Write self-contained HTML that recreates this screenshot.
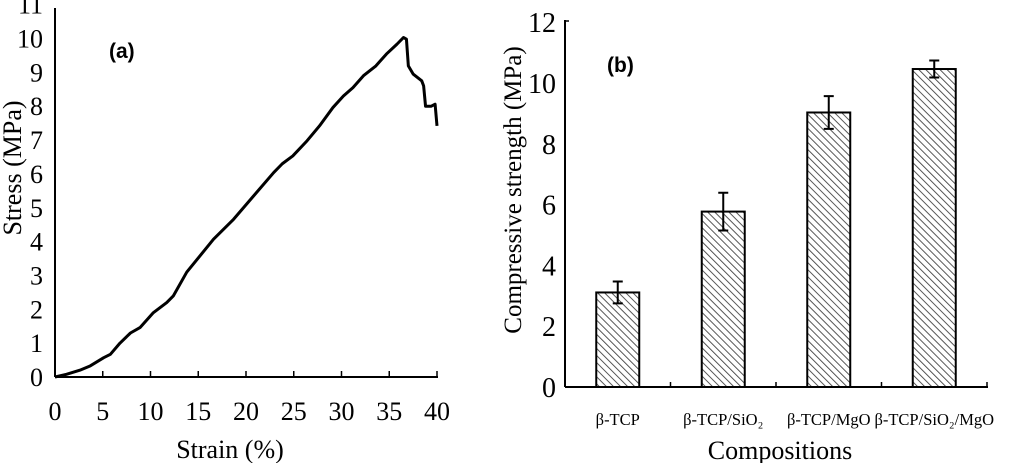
<!DOCTYPE html>
<html><head><meta charset="utf-8"><style>
html,body{margin:0;padding:0;background:#fff;}
svg{display:block;font-family:"Liberation Serif",serif;}
</style></head><body>
<svg width="1024" height="463" viewBox="0 0 1024 463">
<defs>
<pattern id="hatch" patternUnits="userSpaceOnUse" width="5" height="5" patternTransform="rotate(-45)">
<rect width="5" height="5" fill="#fff"/><line x1="0" y1="0" x2="0" y2="5" stroke="#444" stroke-width="1.8"/>
</pattern>
</defs>
<g id="chartA"></g>
<g id="chartB"></g>
</svg>
<script>
const strainVals=[0,1.2,2.6,3.7,5.1,5.8,6.8,7.9,8.9,10.3,11.7,12.4,13.8,16.6,18.7,20.8,22.9,23.8,24.9,26.4,27.7,29.1,30.2,31.2,32.3,33.6,34.7,35.8,36.5,36.8,37.0,37.5,38.4,38.6,38.8,39.4,39.8,40];
const stressVals=[0,0.08,0.2,0.33,0.57,0.67,1.0,1.3,1.46,1.9,2.2,2.4,3.1,4.07,4.66,5.35,6.04,6.3,6.53,6.98,7.42,7.96,8.3,8.55,8.9,9.19,9.54,9.83,10.03,9.98,9.19,8.95,8.75,8.6,8.0,8.0,8.06,7.42];
const xTicksA=[0,5,10,15,20,25,30,35,40];
const yTicksA=[0,1,2,3,4,5,6,7,8,9,10,11];
const categories=["β-TCP","β-TCP/SiO₂","β-TCP/MgO","β-TCP/SiO₂/MgO"];
const strengthVals=[3.11,5.77,9.03,10.46];
const errVals=[0.36,0.62,0.54,0.28];
const yTicksB=[0,2,4,6,8,10,12];

const NS="http://www.w3.org/2000/svg";
function mk(tag,attrs,parent,text){const e=document.createElementNS(NS,tag);for(const k in attrs)e.setAttribute(k,attrs[k]);if(text!==undefined)e.textContent=text;parent.appendChild(e);return e;}

// Chart A
const A=document.getElementById('chartA');
const ax=v=>55+v*(437-55)/40;
const ay=v=>377-v*33.85;
let e;
e=mk('line',{x1:55,y1:8,x2:55,y2:377,stroke:'#000','stroke-width':2},A);

e=mk('line',{x1:55,y1:377,x2:438,y2:377,stroke:'#000','stroke-width':2},A);

xTicksA.forEach(t=>{
 mk('line',{x1:ax(t),y1:371,x2:ax(t),y2:377,stroke:'#000','stroke-width':1.5},A);
 e=mk('text',{x:ax(t),y:420,'text-anchor':'middle','font-size':26},A,String(t));
 
});
yTicksA.forEach(t=>{
 e=mk('text',{x:43,y:ay(t)+9,'text-anchor':'end','font-size':26},A,String(t));
 
});
e=mk('polyline',{points:strainVals.map((s,i)=>ax(s)+','+ay(stressVals[i])).join(' '),fill:'none',stroke:'#000','stroke-width':3,'stroke-linejoin':'round'},A);

e=mk('text',{x:230,y:458,'text-anchor':'middle','font-size':26},A,'Strain (%)');

e=mk('text',{x:0,y:0,'text-anchor':'middle','font-size':26,transform:'translate(21,168) rotate(-90)'},A,'Stress (MPa)');

e=mk('text',{x:109,y:58,'font-size':21,'font-weight':'bold','font-family':'Liberation Sans, sans-serif'},A,'(a)');


// Chart B
const B=document.getElementById('chartB');
const bx0=565,bw=105.5;
const by=v=>387-v*30.4;
e=mk('line',{x1:565,y1:20,x2:565,y2:387,stroke:'#000','stroke-width':2},B);

e=mk('line',{x1:565,y1:387,x2:988,y2:387,stroke:'#000','stroke-width':2},B);

mk('line',{x1:565,y1:21,x2:569,y2:21,stroke:'#000','stroke-width':1.5},B);
for(let i=1;i<=categories.length;i++){mk('line',{x1:bx0+i*bw,y1:382,x2:bx0+i*bw,y2:387,stroke:'#000','stroke-width':1.5},B);}
yTicksB.forEach(t=>{
 e=mk('text',{x:556,y:by(t)+10,'text-anchor':'end','font-size':28},B,String(t));
 
});
categories.forEach((c,i)=>{
 const cx=bx0+(i+0.5)*bw;
 e=mk('rect',{x:cx-21.5,y:by(strengthVals[i]),width:43,height:387-by(strengthVals[i]),fill:'url(#hatch)',stroke:'#000','stroke-width':2},B);
 
 const hi=by(strengthVals[i]+errVals[i]),lo=by(strengthVals[i]-errVals[i]);
 e=mk('path',{d:`M${cx},${hi}V${lo}M${cx-5},${hi}H${cx+5}M${cx-5},${lo}H${cx+5}`,stroke:'#000','stroke-width':2,fill:'none'},B);
 
 e=mk('text',{x:cx,y:425,'text-anchor':'middle','font-size':16.5},B,c);
 
});
e=mk('text',{x:780,y:459,'text-anchor':'middle','font-size':26},B,'Compositions');

e=mk('text',{x:0,y:0,'text-anchor':'middle','font-size':25,transform:'translate(521,190) rotate(-90)'},B,'Compressive strength (MPa)');

e=mk('text',{x:607,y:72,'font-size':21,'font-weight':'bold','font-family':'Liberation Sans, sans-serif'},B,'(b)');

</script>
</body></html>
